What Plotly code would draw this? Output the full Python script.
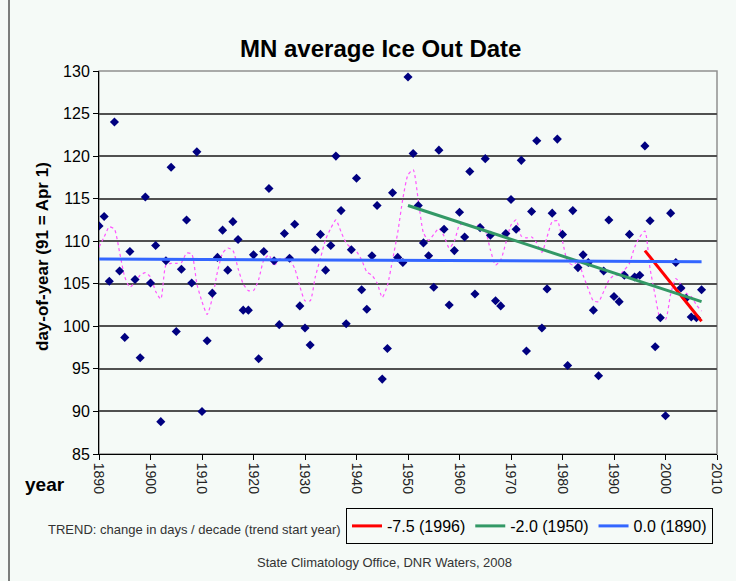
import plotly.graph_objects as go

years = list(range(1890, 2008))
ice_out = [
    111.8, 112.9, 105.3, 124.0, 106.5, 98.7, 108.8, 105.5, 96.3, 115.2,
    105.1, 109.5, 88.8, 107.7, 118.7, 99.4, 106.7, 112.5, 105.1, 120.5,
    90.0, 98.3, 103.9, 108.1, 111.3, 106.6, 112.3, 110.2, 101.9, 101.9,
    108.4, 96.2, 108.8, 116.2, 107.7, 100.2, 110.9, 108.0, 112.0, 102.4,
    99.8, 97.8, 109.0, 110.8, 106.6, 109.5, 120.0, 113.6, 100.3, 109.0,
    117.4, 104.3, 102.0, 108.3, 114.2, 93.8, 97.4, 115.7, 108.1, 107.5,
    129.3, 120.3, 114.2, 109.8, 108.3, 104.6, 120.7, 111.4, 102.5, 108.9,
    113.4, 110.5, 118.2, 103.8, 111.6, 119.7, 110.7, 103.0, 102.4, 110.9,
    114.9, 111.4, 119.5, 97.1, 113.5, 121.8, 99.8, 104.4, 113.3, 122.0,
    110.8, 95.4, 113.6, 106.9, 108.4, 107.5, 101.9, 94.2, 106.5, 112.5,
    103.5, 102.9, 106.0, 110.8, 105.8, 106.0, 121.2, 112.4, 97.6, 101.0,
    89.5, 113.3, 107.5, 104.5, 103.3, 101.1, 101.0, 104.3,
]
smoothed = [
    109.3, 110.5, 111.7, 111.4, 108.7, 105.8, 104.6, 105.2, 106.0, 106.3,
    105.8, 104.1, 103.2, 107.2, 107.4, 107.4, 107.5, 108.6, 108.5, 105.0,
    102.9, 101.4, 103.3, 106.4, 108.6, 109.2, 108.9, 106.8, 105.0, 104.2,
    104.2, 105.5, 107.8, 108.4, 107.1, 107.9, 108.0, 107.8, 106.8, 104.7,
    103.0, 103.0, 105.8, 108.0, 110.2, 111.5, 112.5, 111.1, 109.8, 109.2,
    108.8, 107.8, 106.4, 106.0, 105.1, 103.4, 104.8, 107.8, 111.0, 115.0,
    117.8, 118.4, 114.8, 111.0, 110.1, 110.8, 111.5, 110.6, 109.2, 110.0,
    111.9, 112.1, 111.9, 111.7, 112.0, 111.3, 109.0, 107.2, 107.8, 109.8,
    111.9, 112.5, 110.6, 110.4, 110.5, 109.8, 108.7, 110.5, 112.3, 112.4,
    110.0, 107.6, 107.2, 107.6, 106.0, 104.4, 103.0, 102.9, 104.1, 105.4,
    106.0, 106.0, 106.6, 107.4, 109.3, 110.5, 111.2, 106.8, 103.6, 100.9,
    100.8, 103.8, 105.6, 104.9, 103.9, 103.5, 102.5, 101.8,
]

trend_names = ["-7.5 (1996)", "-2.0 (1950)", "0.0 (1890)"]
trend_years = [[1996, 2007], [1950, 2007], [1890, 2007]]
trend_values = [[108.9, 100.6], [114.2, 102.9], [107.9, 107.6]]
trend_colors = ["#ff0000", "#339966", "#3366ff"]

x_ticks = list(range(1890, 2011, 10))
y_ticks = list(range(85, 131, 5))

BG = "#f5faf7"
FONT = "Liberation Sans, Arial, sans-serif"

fig = go.Figure()

fig.add_trace(go.Scatter(
    x=years, y=smoothed, mode="lines", showlegend=False, hoverinfo="skip",
    line=dict(color="#ff55ff", width=1.2, dash="dot", shape="spline", smoothing=0.6),
))
fig.add_trace(go.Scatter(
    x=years, y=ice_out, mode="markers", showlegend=False,
    marker=dict(symbol="diamond", size=7, color="#000080"),
))
for name, xs, ys, c in zip(trend_names, trend_years, trend_values, trend_colors):
    fig.add_trace(go.Scatter(x=xs, y=ys, mode="lines", name=name,
                             line=dict(color=c, width=3)))

L, R, T, B = 99, 19, 71, 127
W, H = 736, 581
ph = H - T - B
pw = W - L - R


def px(x):
    return (x - L) / pw


def py(y):
    return (H - B - y) / ph


def note(text, x, y, size, xanchor="center", color="#000000", angle=0):
    return dict(text=text, xref="paper", yref="paper", x=px(x), y=py(y),
                xanchor=xanchor, yanchor="middle", showarrow=False,
                textangle=angle, font=dict(size=size, family=FONT, color=color))


fig.update_layout(
    width=W, height=H,
    margin=dict(l=L, r=R, t=T, b=B, autoexpand=False),
    paper_bgcolor=BG, plot_bgcolor=BG,
    font=dict(family=FONT, color="#000000"),
    showlegend=True,
    legend=dict(
        orientation="h", x=px(346), y=py(508), xanchor="left", yanchor="top",
        bordercolor="#000000", borderwidth=1, bgcolor=BG,
        font=dict(size=16, family=FONT), itemwidth=30, tracegroupgap=0,
    ),
    xaxis=dict(
        range=[1890, 2010], tickmode="array", tickvals=x_ticks,
        ticktext=[str(v) for v in x_ticks], tickangle=90,
        ticks="outside", ticklen=5, tickcolor="#000000",
        showline=True, linecolor="#000000", linewidth=1,
        showgrid=False, zeroline=False,
        tickfont=dict(size=14, family=FONT, color="#222222"),
    ),
    yaxis=dict(
        range=[85, 130], tickmode="array", tickvals=y_ticks,
        ticks="outside", ticklen=5, tickcolor="#000000",
        showline=True, linecolor="#000000", linewidth=1,
        showgrid=True, gridcolor="#505050", gridwidth=1.5, zeroline=False,
        tickfont=dict(size=16, family=FONT, color="#000000"),
    ),
    shapes=[
        dict(type="rect", xref="paper", yref="paper", x0=0, x1=1, y0=0, y1=1,
             line=dict(color="#909090", width=1.5), layer="below"),
        dict(type="line", xref="paper", yref="paper", x0=px(9), x1=px(9),
             y0=py(H), y1=py(0), line=dict(color="#000000", width=1)),
    ],
    annotations=[
        note("<b>MN average Ice Out Date</b>", 380, 49, 24),
        note("<b>day-of-year (91 = Apr 1)</b>", 42, 257, 17, angle=-90),
        note("<b>year</b>", 45, 484, 19),
        note("TREND: change in days / decade (trend start year)", 343, 529, 13,
             xanchor="right", color="#333333"),
        note("State Climatology Office, DNR Waters, 2008", 384, 562, 13,
             color="#333333"),
    ],
)

fig.write_html("out.html", post_script="document.body.style.margin='0';",
               config={"displayModeBar": False})
